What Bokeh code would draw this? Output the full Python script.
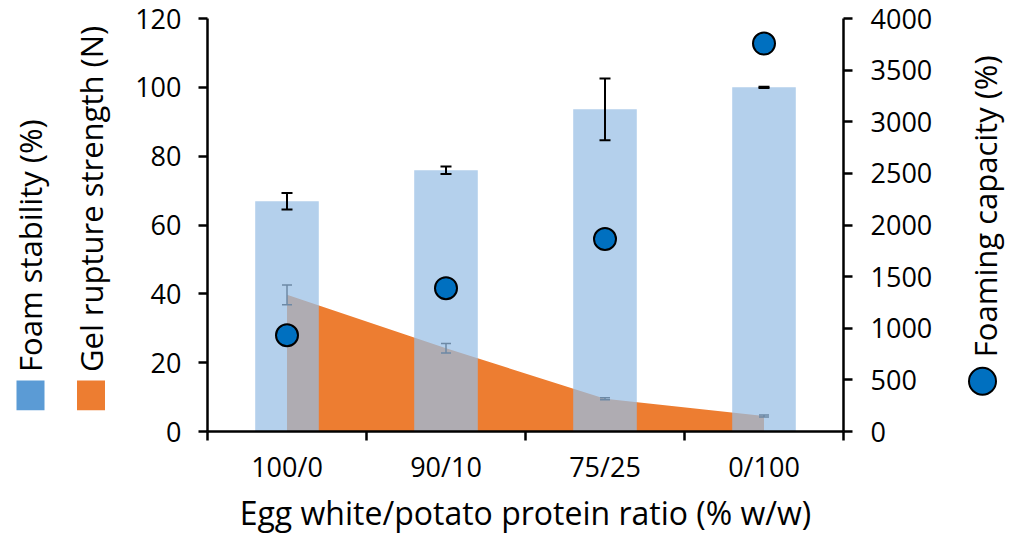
import numpy as np
from math import pi
from bokeh.plotting import figure
from bokeh.models import Range1d, LinearAxis, FixedTicker, Label
from bokeh.layouts import row
from bokeh.embed import file_html
from bokeh.resources import INLINE

# ---------------- data ----------------
categories = ["100/0", "90/10", "75/25", "0/100"]
foam_stability = [66.9, 75.9, 93.6, 100.0]          # %, left axis (bars)
foam_stability_err = [2.4, 1.1, 9.0, 0.2]
gel_strength = [39.7, 24.2, 9.5, 4.5]               # N, left axis (area)
gel_strength_err = [2.9, 1.4, 0.3, 0.3]
foaming_capacity = [932, 1388, 1864, 3757]          # %, right axis (circles)
left_ticks = [0, 20, 40, 60, 80, 100, 120]
right_ticks = [0, 500, 1000, 1500, 2000, 2500, 3000, 3500, 4000]

x_title = "Egg white/potato protein ratio (% w/w)"
legend_left = ["Foam stability (%)", "Gel rupture strength (N)"]
legend_right = "Foaming capacity (%)"

# ---------------- style ----------------
FONT = "Open Sans"
BLUE_BAR = (151, 190, 229)
BLUE_LEG = "#5B9BD5"
ORANGE = "#ED7D31"
DOT = "#0070C0"
H = 536
WL, WM, WR = 130, 810, 70
Y_MAX = 120
FC_MAX = 4000

n = len(categories)
xs = list(np.arange(n) + 0.5)

# ---------------- main figure ----------------
p = figure(width=WM, height=H, x_range=Range1d(0, n), y_range=Range1d(0, Y_MAX),
           output_backend="svg", toolbar_location=None,
           min_border_left=77, min_border_right=97, min_border_top=18, min_border_bottom=104)
p.extra_y_ranges = {"fc": Range1d(0, FC_MAX)}
p.outline_line_color = None
p.xgrid.visible = False
p.ygrid.visible = False
p.background_fill_color = None
p.border_fill_color = None

# gel rupture strength area
p.varea(x=xs, y1=[0] * n, y2=gel_strength, fill_color=ORANGE, fill_alpha=1.0)
g_lo = [v - e for v, e in zip(gel_strength, gel_strength_err)]
g_hi = [v + e for v, e in zip(gel_strength, gel_strength_err)]
p.segment(x0=xs, y0=g_lo, x1=xs, y1=g_hi, line_color="black", line_width=1.5)
p.scatter(x=xs + xs, y=g_lo + g_hi, marker="dash", size=10, line_color="black", line_width=1.5)

# foam stability bars (translucent)
p.vbar(x=xs, top=foam_stability, width=0.4, fill_color=BLUE_BAR, fill_alpha=0.72, line_color=None)
f_lo = [v - e for v, e in zip(foam_stability, foam_stability_err)]
f_hi = [v + e for v, e in zip(foam_stability, foam_stability_err)]
p.segment(x0=xs, y0=f_lo, x1=xs, y1=f_hi, line_color="black", line_width=2)
p.scatter(x=xs + xs, y=f_lo + f_hi, marker="dash", size=11, line_color="black", line_width=2)

# foaming capacity circles
p.scatter(x=xs, y=foaming_capacity, y_range_name="fc", size=22, fill_color=DOT,
          line_color="black", line_width=2)

# axes
def style_axis(ax):
    ax.axis_line_color = "black"
    ax.axis_line_width = 2.5
    ax.major_tick_line_color = "black"
    ax.major_tick_line_width = 2.5
    ax.minor_tick_line_color = "black"
    ax.minor_tick_line_width = 2.5
    ax.major_label_text_font = FONT
    ax.major_label_text_font_size = "27px"
    ax.major_label_text_color = "black"
    ax.axis_label_text_font = FONT
    ax.axis_label_text_font_style = "normal"
    ax.axis_label_text_color = "black"

xa = p.xaxis[0]
style_axis(xa)
xa.ticker = FixedTicker(ticks=xs, minor_ticks=list(range(n + 1)))
xa.major_label_overrides = {float(v): c for v, c in zip(xs, categories)}
xa.major_tick_out = 0
xa.major_tick_in = 0
xa.minor_tick_out = 9
xa.minor_tick_in = 0
xa.major_label_standoff = 7
xa.axis_label = x_title
xa.axis_label_text_font_size = "32px"
xa.axis_label_standoff = 3

ya = p.yaxis[0]
style_axis(ya)
ya.ticker = FixedTicker(ticks=left_ticks, minor_ticks=[])
ya.major_tick_out = 9
ya.major_tick_in = 0
ya.major_label_standoff = 17

ra = LinearAxis(y_range_name="fc", ticker=FixedTicker(ticks=right_ticks, minor_ticks=[]))
style_axis(ra)
ra.major_tick_out = 9
ra.major_tick_in = 0
ra.major_label_standoff = 18
p.add_layout(ra, "right")

# ---------------- side legends (frames are aligned with the main frame) ----------------
def side_fig(w):
    f = figure(width=w, height=H, x_range=Range1d(0, w), y_range=Range1d(0, Y_MAX),
               output_backend="svg", toolbar_location=None, min_border=0)
    f.axis.visible = False
    f.grid.visible = False
    f.outline_line_color = None
    f.background_fill_color = None
    f.border_fill_color = None
    return f

def vlabel(f, x, y, text):
    f.add_layout(Label(x=x, y=y, text=text, angle=pi / 2, text_align="left",
                       text_baseline="middle", text_font=FONT,
                       text_font_size="31px", text_color="black"))

pl = side_fig(WL)
pl.rect(x=[30, 90.5], y=[10.5, 10.5], width=28, height=8.7,
        fill_color=[BLUE_LEG, ORANGE], line_color=None)
vlabel(pl, 29, 17.3, legend_left[0])
vlabel(pl, 90, 17.3, legend_left[1])

pr = side_fig(WR)
pr.scatter(x=[42], y=[14.6], size=27, fill_color=DOT, line_color="black", line_width=2)
vlabel(pr, 44, 21.6, legend_right)

layout = row(pl, p, pr)
open("out.html", "w").write(file_html(layout, INLINE))
